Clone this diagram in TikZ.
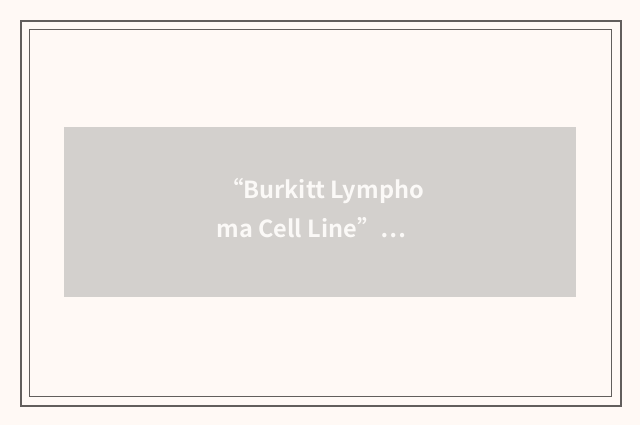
\documentclass[tikz,border=0pt]{standalone}
\usepackage{fontspec}
\newfontfamily\cjkb{Noto Sans CJK SC Bold}
\definecolor{bgc}{HTML}{FFF9F5}
\definecolor{framec}{HTML}{625E5C}
\definecolor{boxc}{HTML}{D3D0CD}
\definecolor{txtc}{HTML}{FBF9F7}
\tikzset{
  lbl/.style={inner sep=0pt, outer sep=0pt, anchor=base west, text=txtc, font=\cjkb\fontsize{23.5}{23.5}\selectfont},
}
\begin{document}
\begin{tikzpicture}[x=1pt,y=-1pt]
\useasboundingbox (0,0) rectangle (640,425);
\fill[bgc] (0,0) rectangle (640,425);
\draw[framec, line width=2pt] (21,21) rectangle (621,406);
\draw[framec, line width=1pt] (29.5,29.5) rectangle (611.5,396.5);
\fill[boxc] (64,127) rectangle (576,297);
\node[lbl] (l1) at (220,198) {“Burkitt Lympho};
\node[lbl] (l2) at (216.5,237.5) {ma Cell Line”…};
\end{tikzpicture}
\end{document}
